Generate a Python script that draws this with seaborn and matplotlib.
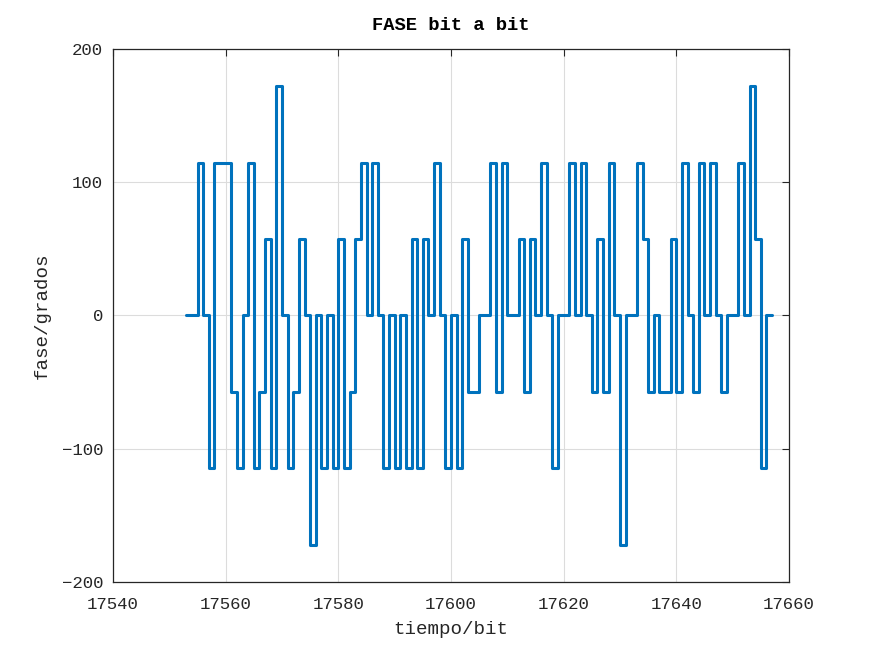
import numpy as np
import pandas as pd
import seaborn as sns
import matplotlib
matplotlib.use("Agg")
import matplotlib.pyplot as plt

## datos: bit index and phase in multiples of 1 rad (57.2958 deg)
bits = list(range(17553, 17658))
fase_k = [0, 0, 2, 0, -2, 2, 2, 2, -1, -2,
          0, 2, -2, -1, 1, -2, 3, 0, -2, -1,
          1, 0, -3, 0, -2, 0, -2, 1, -2, -1,
          1, 2, 0, 2, 0, -2, 0, -2, 0, -2,
          1, -2, 1, 0, 2, 0, -2, 0, -2, 1,
          -1, -1, 0, 0, 2, -1, 2, 0, 0, 1,
          -1, 1, 0, 2, 0, -2, 0, 0, 2, 0,
          2, 0, -1, 1, -1, 2, 0, -3, 0, 0,
          2, 1, -1, 0, -1, -1, 1, -1, 2, 0,
          -1, 2, 0, 2, 0, -1, 0, 0, 2, 0,
          3, 1, -2, 0, 0]
fase = [k * 57.2958 for k in fase_k]

df = pd.DataFrame({"bit": bits, "fase": fase})

sns.set_style("white")
plt.rcParams['font.family'] = ['Liberation Mono', 'DejaVu Sans Mono']

fig = plt.figure(figsize=(8.72, 6.54), dpi=100)
ax = fig.add_axes([0.1296, 0.1101, 0.7752, 0.8150])

sns.lineplot(data=df, x="bit", y="fase", ax=ax, drawstyle="steps-post",
             color="#0072BD", linewidth=2.2, estimator=None)

ax.set_xlim(17540, 17660)
ax.set_ylim(-200, 200)
ax.set_xticks(range(17540, 17661, 20))
ax.set_yticks([-200, -100, 0, 100, 200])
ax.grid(True, color="#dcdcdc", linewidth=0.8)
ax.tick_params(direction="in", length=5, width=0.8, top=True, right=True,
               labelsize=12.5, colors="#262626")
ax.tick_params(axis="x", pad=11)
ax.tick_params(axis="y", pad=7)
for s in ax.spines.values():
    s.set_color("#262626")
    s.set_linewidth(0.9)
    s.set_visible(True)

ax.set_xlabel("tiempo/bit", fontsize=13.8, color="#262626", labelpad=6)
ax.set_ylabel("fase/grados", fontsize=13.8, color="#262626", labelpad=8)
ax.set_title("FASE bit a bit", fontsize=13.5, fontweight="bold", color="black", pad=14)

fig.savefig("out.png", dpi=100)
